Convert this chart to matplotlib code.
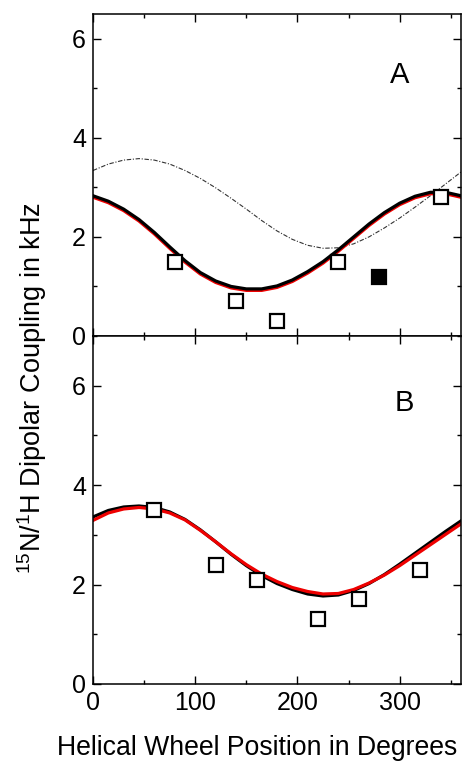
import matplotlib
matplotlib.use("Agg")
import matplotlib.pyplot as plt
from matplotlib.ticker import MultipleLocator

plt.rcParams['font.family'] = ['Liberation Sans', 'DejaVu Sans']
plt.rcParams['mathtext.default'] = 'regular'

# Positions sur la roue hélicoïdale (degrés) pour les courbes
angles = [0, 15, 30, 45, 60, 75, 90, 105, 120, 135, 150, 165, 180,
          195, 210, 225, 240, 255, 270, 285, 300, 315, 330, 345, 360]

# Panneau A
fitA_black = [2.83, 2.72, 2.56, 2.35, 2.09, 1.80, 1.52, 1.28, 1.11, 1.00, 0.95, 0.95, 1.01,
              1.13, 1.30, 1.50, 1.74, 2.00, 2.26, 2.49, 2.68, 2.82, 2.90, 2.90, 2.83]
fitA_red = [2.80, 2.69, 2.53, 2.32, 2.06, 1.77, 1.49, 1.25, 1.08, 0.97, 0.92, 0.92, 0.98,
            1.10, 1.27, 1.47, 1.71, 1.97, 2.23, 2.46, 2.65, 2.79, 2.87, 2.87, 2.80]
fitA_dash = [3.34, 3.47, 3.55, 3.58, 3.55, 3.47, 3.34, 3.18, 2.99, 2.78, 2.56, 2.33, 2.12,
             1.95, 1.83, 1.77, 1.78, 1.86, 2.00, 2.18, 2.38, 2.60, 2.83, 3.07, 3.31]
ptsA_x = [80, 140, 180, 240, 340]
ptsA_y = [1.5, 0.7, 0.3, 1.5, 2.8]
fullA_x = [280]
fullA_y = [1.2]

# Panneau B
fitB_black = [3.36, 3.49, 3.56, 3.58, 3.55, 3.46, 3.31, 3.10, 2.86, 2.61, 2.38, 2.18, 2.02,
              1.90, 1.81, 1.77, 1.79, 1.88, 2.02, 2.20, 2.41, 2.63, 2.85, 3.07, 3.28]
fitB_red = [3.29, 3.44, 3.52, 3.55, 3.52, 3.44, 3.30, 3.09, 2.86, 2.62, 2.40, 2.21, 2.06,
            1.94, 1.86, 1.81, 1.82, 1.90, 2.03, 2.19, 2.38, 2.59, 2.80, 3.01, 3.22]
ptsB_x = [60, 120, 160, 220, 260, 320]
ptsB_y = [3.5, 2.4, 2.1, 1.3, 1.7, 2.3]

fig = plt.figure(figsize=(4.66, 7.62), dpi=100)
axA = fig.add_axes([0.1996, 0.5591, 0.7897, 0.4226])
axB = fig.add_axes([0.1996, 0.1024, 0.7897, 0.4567])


def style(ax, ytop):
    ax.set_xlim(0, 360)
    ax.set_ylim(0, ytop)
    ax.xaxis.set_major_locator(MultipleLocator(100))
    ax.xaxis.set_minor_locator(MultipleLocator(50))
    ax.yaxis.set_major_locator(MultipleLocator(2))
    ax.yaxis.set_minor_locator(MultipleLocator(1))
    ax.tick_params(which='both', direction='in', top=True, right=True, width=1.0)
    ax.tick_params(which='major', length=5.5, labelsize=18, pad=5)
    ax.tick_params(which='minor', length=3.0)
    for s in ax.spines.values():
        s.set_linewidth(1.1)


lw_fit = 2.3

# --- A ---
axA.plot(angles, fitA_dash, color='#333333', lw=0.8, ls=(0, (4, 1.5, 1, 1.5)))
axA.plot(angles, fitA_red, color='#ee0000', lw=lw_fit, solid_joinstyle='round')
axA.plot(angles, fitA_black, color='black', lw=lw_fit, solid_joinstyle='round')
axA.plot(ptsA_x, ptsA_y, ls='none', marker='s', ms=9.5, mfc='white', mec='black', mew=1.6)
axA.plot(fullA_x, fullA_y, ls='none', marker='s', ms=9.5, mfc='black', mec='black', mew=1.6)
style(axA, 6.5)
axA.tick_params(labelbottom=False)
axA.text(0.834, 0.81, "A", transform=axA.transAxes, fontsize=21, ha='center', va='center')

# --- B ---
axB.plot(angles, fitB_black, color='black', lw=lw_fit, solid_joinstyle='round')
axB.plot(angles, fitB_red, color='#ee0000', lw=lw_fit, solid_joinstyle='round')
axB.plot(ptsB_x, ptsB_y, ls='none', marker='s', ms=9.5, mfc='white', mec='black', mew=1.6)
style(axB, 7.0)
axB.text(0.845, 0.807, "B", transform=axB.transAxes, fontsize=21, ha='center', va='center')

# Titres des axes (placés à la main comme sur la figure d'origine)
fig.text(0.5515, 0.0092, "Helical Wheel Position in Degrees", fontsize=19.2,
         ha='center', va='baseline')
fig.text(0.068, 0.4915, "$^{15}$N/$^{1}$H Dipolar Coupling in kHz", rotation=90,
         fontsize=19.5, ha='center', va='center')

fig.savefig("out.png", dpi=100)
